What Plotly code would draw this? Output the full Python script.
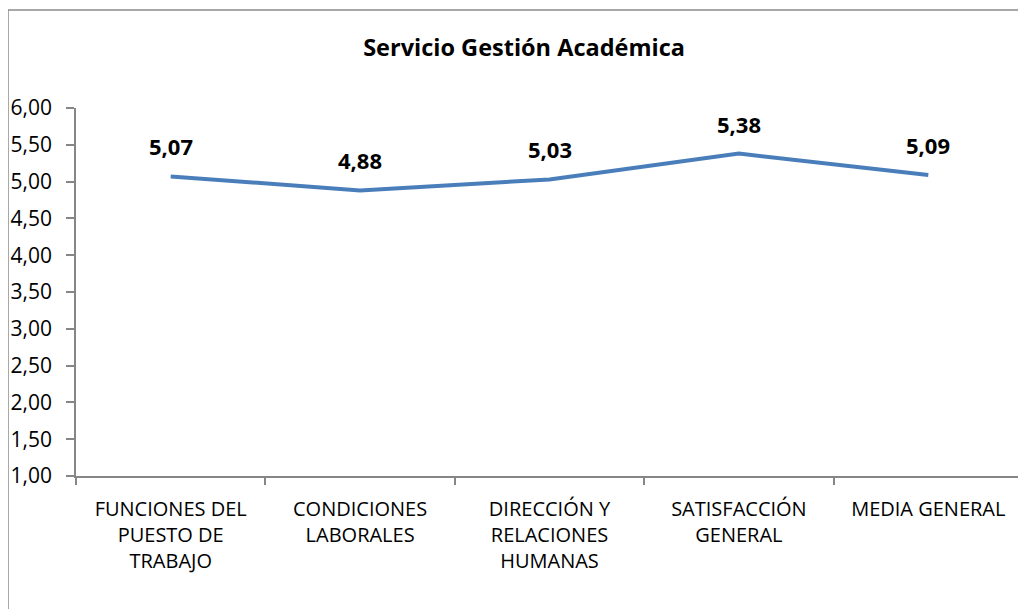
import plotly.graph_objects as go

categories = ["FUNCIONES DEL<br>PUESTO DE<br>TRABAJO", "CONDICIONES<br>LABORALES",
              "DIRECCIÓN Y<br>RELACIONES<br>HUMANAS", "SATISFACCIÓN<br>GENERAL", "MEDIA GENERAL"]
values = [5.07, 4.88, 5.03, 5.38, 5.09]
y_ticks = [1.0, 1.5, 2.0, 2.5, 3.0, 3.5, 4.0, 4.5, 5.0, 5.5, 6.0]
title = "Servicio Gestión Académica"

font_family = "Open Sans, Liberation Sans, sans-serif"

fig = go.Figure()
fig.add_trace(go.Scatter(
    x=categories, y=values, mode="lines",
    line=dict(color="#4A7EBB", width=4), hoverinfo="skip", showlegend=False,
))

for c, v in zip(categories, values):
    fig.add_annotation(x=c, y=v, text="<b>" + f"{v:.2f}".replace(".", ",") + "</b>",
                       showarrow=False, yshift=30,
                       font=dict(size=22, color="black", family=font_family))

# outer frame
fig.add_shape(type="rect", xref="paper", yref="paper",
              x0=-0.0718, x1=1.02, y0=-0.45, y1=1.266,
              line=dict(color="#8C8C8C", width=1.5))

fig.update_layout(
    width=1026, height=609,
    margin=dict(l=68, r=11, t=100, b=141, autoexpand=False),
    paper_bgcolor="white", plot_bgcolor="white",
    separators=",.",
    title=dict(text="<b>" + title + "</b>", x=0.503, xanchor="center", y=0.934, yanchor="middle",
               font=dict(size=23.5, color="black", family=font_family)),
    font=dict(family=font_family, color="black", size=20),
    xaxis=dict(type="category", range=[-0.5, 4.5], showgrid=False, showline=True,
               linecolor="#868686", linewidth=1.5, ticks="outside", tickson="boundaries",
               ticklen=7, tickcolor="#868686", tickwidth=1.5, fixedrange=True, automargin=False,
               tickfont=dict(size=20, family=font_family, color="black"), ticklabelstandoff=14),
    yaxis=dict(range=[1, 6], tickvals=y_ticks, tickformat=".2f", showgrid=False, zeroline=False,
               showline=True, linecolor="#868686", linewidth=1.5, ticks="outside", ticklen=8,
               tickcolor="#868686", tickwidth=1.5, ticklabelstandoff=10, automargin=False,
               tickfont=dict(size=21, family=font_family, color="black")),
)

fig.write_html("out.html")
